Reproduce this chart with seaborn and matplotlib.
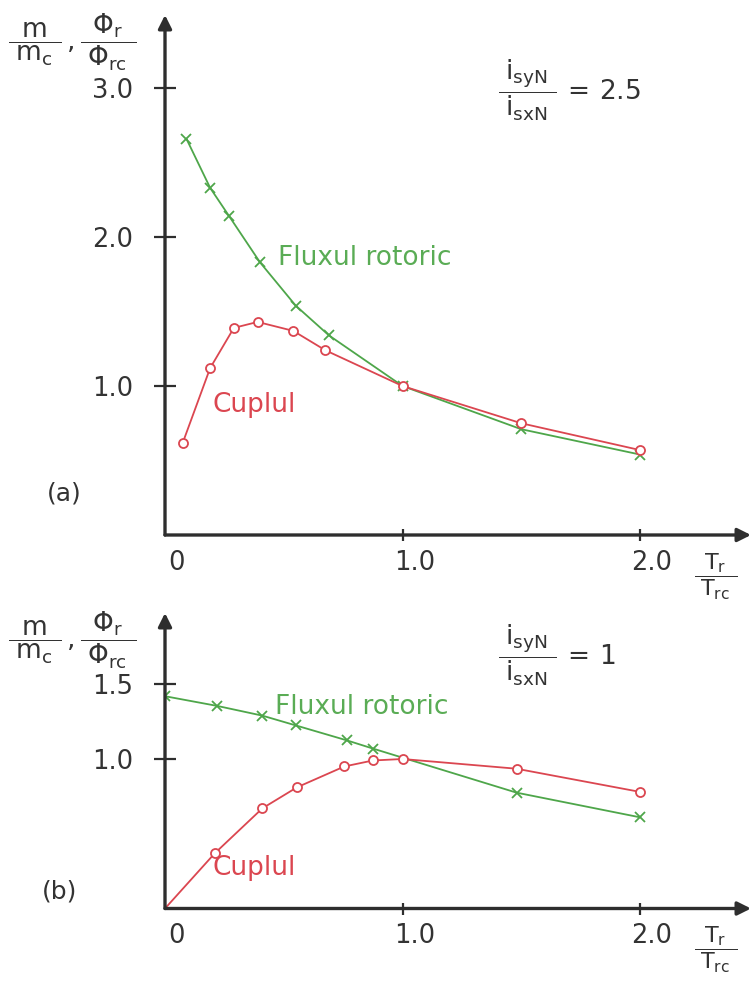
import matplotlib
matplotlib.use("Agg")
import matplotlib.pyplot as plt
from matplotlib.transforms import ScaledTranslation
import seaborn as sns
import pandas as pd

# ---------------- data ----------------
# panel (a): i_syN / i_sxN = 2.5
tr_a_flux = [0.09, 0.19, 0.27, 0.40, 0.55, 0.69, 1.0, 1.5, 2.0]
flux_a = [2.66, 2.33, 2.14, 1.83, 1.54, 1.34, 1.0, 0.71, 0.54]
tr_a_torque = [0.075, 0.19, 0.29, 0.39, 0.54, 0.675, 1.0, 1.5, 2.0]
torque_a = [0.62, 1.12, 1.39, 1.43, 1.37, 1.24, 1.0, 0.75, 0.57]

# panel (b): i_syN / i_sxN = 1
tr_b_flux = [0.0, 0.22, 0.41, 0.55, 0.765, 0.875, 1.48, 2.0]
flux_b = [1.42, 1.355, 1.29, 1.225, 1.125, 1.07, 0.775, 0.61]
tr_b_torque = [0.0, 0.21, 0.41, 0.555, 0.755, 0.875, 1.0, 1.48, 2.0]
torque_b = [0.0, 0.37, 0.67, 0.81, 0.95, 0.99, 1.0, 0.935, 0.78]

x_ticks = [0, 1, 2]
x_ticklabels = ["0", "1.0", "2.0"]
y_ticks_a = [1.0, 2.0, 3.0]
y_ticklabels_a = ["1.0", "2.0", "3.0"]
y_ticks_b = [1.0, 1.5]
y_ticklabels_b = ["1.0", "1.5"]

ratio_a = r"$\dfrac{\;i_{syN}\;}{\;i_{sxN}\;}\,=\,2.5$"
ratio_b = r"$\dfrac{\;i_{syN}\;}{\;i_{sxN}\;}\,=\,1$"
flux_label = "Fluxul rotoric"
torque_label = "Cuplul"

# ---------------- style ----------------
sns.set_theme(style="white")
plt.rcParams["font.family"] = ["DejaVu Sans"]
plt.rcParams["mathtext.fontset"] = "dejavusans"
plt.rcParams["mathtext.default"] = "regular"

GREEN = "#4ea64a"
GREEN_TXT = "#5aac55"
RED = "#db4650"
AXC = "#2e2e2e"
TXT = "#333333"

W, H = 751, 983
fig = plt.figure(figsize=(W / 100, H / 100), dpi=100)
fig.patch.set_facecolor("white")

px_per_x = 237.5
ax_left = 165


def make_axes(y0_px, top_px, px_per_y):
    ax = fig.add_axes([ax_left / W, 1 - y0_px / H, (W - ax_left) / W, (y0_px - top_px) / H])
    ax.set_xlim(0, (W - ax_left) / px_per_x)
    ax.set_ylim(0, (y0_px - top_px) / px_per_y)
    ax.set_facecolor("none")
    for s in ax.spines.values():
        s.set_visible(False)
    # axis arrows
    ax.annotate("", xy=(1, 0), xytext=(0, 0), xycoords="axes fraction",
                arrowprops=dict(arrowstyle="-|>", lw=2.4, color=AXC, mutation_scale=20,
                                shrinkA=0, shrinkB=0), annotation_clip=False)
    ax.annotate("", xy=(0, 1), xytext=(0, 0), xycoords="axes fraction",
                arrowprops=dict(arrowstyle="-|>", lw=2.4, color=AXC, mutation_scale=20,
                                shrinkA=0, shrinkB=0), annotation_clip=False)
    return ax


def style_ticks(ax, yt, ytl):
    ax.set_xticks(x_ticks)
    ax.set_xticklabels(x_ticklabels)
    ax.set_yticks(yt)
    ax.set_yticklabels(ytl)
    ax.tick_params(axis="x", direction="inout", length=9, width=1.6, color=AXC,
                   labelsize=18.5, labelcolor=TXT, pad=6, bottom=True)
    ax.tick_params(axis="y", direction="inout", length=16, width=1.6, color=AXC,
                   labelsize=18.5, labelcolor=TXT, pad=15, left=True)
    ax.xaxis.get_major_ticks()[0].tick1line.set_visible(False)
    off = ScaledTranslation(12 / 100, 0, fig.dpi_scale_trans)
    for lab in ax.get_xticklabels():
        lab.set_transform(lab.get_transform() + off)


def draw_series(ax, x, y, color, marker, markevery=None):
    df = pd.DataFrame({"x": x, "y": y})
    kw = dict(color=color, lw=1.3, marker=marker, markersize=7, markeredgewidth=1.3)
    if marker == "o":
        kw.update(markerfacecolor="white", markeredgecolor=color, markersize=6.5)
    else:
        kw.update(markeredgecolor=color)
    if markevery is not None:
        kw["markevery"] = markevery
    sns.lineplot(data=df, x="x", y="y", ax=ax, sort=False, estimator=None, **kw)
    ax.set_xlabel("")
    ax.set_ylabel("")


# ---------------- panel (a) ----------------
ax1 = make_axes(535, 15, 149)
draw_series(ax1, tr_a_flux, flux_a, GREEN, "x")
draw_series(ax1, tr_a_torque, torque_a, RED, "o")
style_ticks(ax1, y_ticks_a, y_ticklabels_a)
ax1.text(0.476, 1.86, flux_label, color=GREEN_TXT, fontsize=19, ha="left", va="center")
ax1.text(0.198, 0.87, torque_label, color=RED, fontsize=19, ha="left", va="center")

# ---------------- panel (b) ----------------
ax2 = make_axes(908.5, 613, 149.5)
draw_series(ax2, tr_b_flux, flux_b, GREEN, "x")
draw_series(ax2, tr_b_torque, torque_b, RED, "o", markevery=list(range(1, len(tr_b_torque))))
style_ticks(ax2, y_ticks_b, y_ticklabels_b)
ax2.text(0.463, 1.35, flux_label, color=GREEN_TXT, fontsize=19, ha="left", va="center")
ax2.text(0.198, 0.27, torque_label, color=RED, fontsize=19, ha="left", va="center")

# ---------------- figure-level labels ----------------
ylab = r"$\dfrac{\;m\;}{\;m_c\;}\,,\dfrac{\;\Phi_r\;}{\;\Phi_{rc}\;}$"
xlab = r"$\dfrac{\;T_r\;}{\;T_{rc}\;}$"


def ftext(xp, yp, s, **kw):
    fig.text(xp / W, 1 - yp / H, s, color=TXT, **kw)


ftext(8, 42, ylab, fontsize=19, ha="left", va="center")
ftext(8, 640, ylab, fontsize=19, ha="left", va="center")
ftext(694, 577, xlab, fontsize=16, ha="left", va="center")
ftext(694, 950, xlab, fontsize=16, ha="left", va="center")
ftext(498, 90, ratio_a, fontsize=19, ha="left", va="center")
ftext(498, 655, ratio_b, fontsize=19, ha="left", va="center")
ftext(64, 493, "(a)", fontsize=18, ha="center", va="center")
ftext(60, 892, "(b)", fontsize=18, ha="center", va="center")

fig.savefig("out.png", dpi=100, facecolor="white")
